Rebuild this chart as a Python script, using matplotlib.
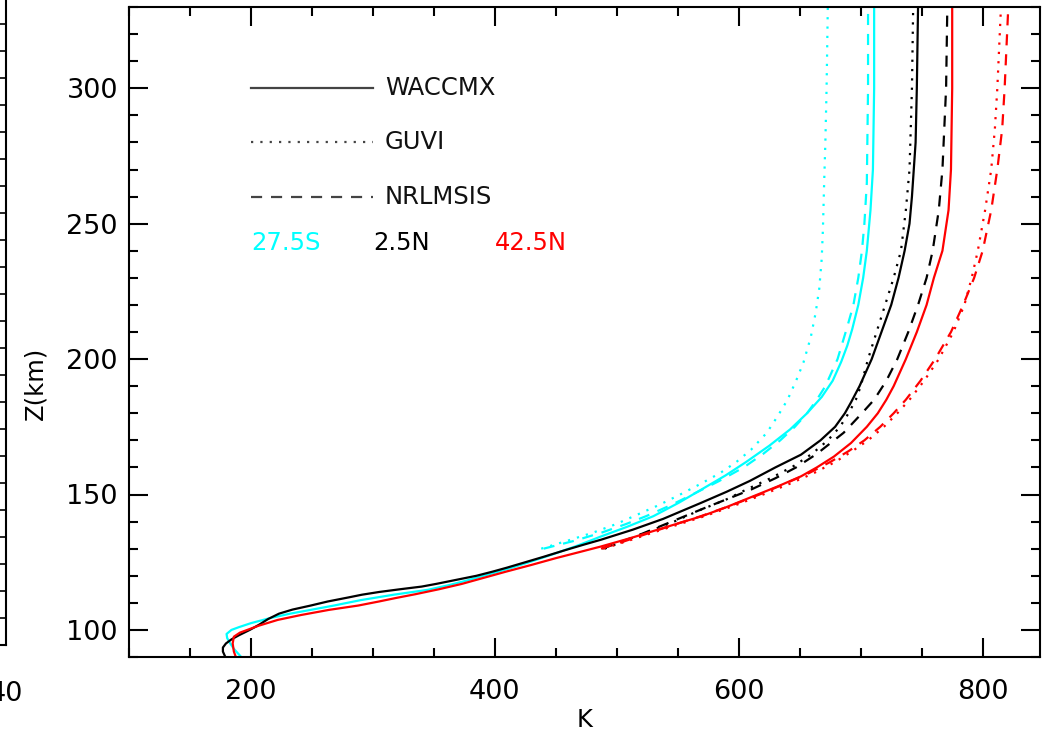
import matplotlib
matplotlib.use("Agg")
import matplotlib.pyplot as plt
from matplotlib.ticker import MultipleLocator

# Neutral temperature profiles (K) versus altitude (km)
# WACCMX model
z_w_s = [89.5, 91, 93, 95, 97, 98.5, 100, 101, 102.5, 104.4, 106, 107.4, 109, 111, 113, 114.8, 116.5, 118,
         119.5, 121, 123, 125, 128, 131, 134.5, 138, 142, 147, 152, 157, 162, 168, 174, 180, 186, 192, 199,
         205, 211, 220, 230, 240, 255, 270, 300, 330]
t_w_s = [193, 190, 186, 183, 180.5, 180, 184, 190, 200, 216, 232, 249, 268, 290, 317, 345, 362, 375,
         387, 399, 414, 428, 448, 467, 487, 508, 530, 551, 570, 589, 606, 625, 642, 656, 668, 677, 684,
         689, 693, 698, 702, 705, 708, 710, 711, 711]

z_w_eq = [90, 91, 92, 93.5, 95, 96.5, 98, 100, 102, 104, 106, 107.5, 109, 110.5, 112, 113, 114, 115, 116,
          117, 118, 119, 120, 121.5, 123, 125, 127, 129.5, 131.5, 133.3, 137, 141, 146.9, 151, 155, 160,
          164.7, 170, 175, 180, 184, 190, 195, 200, 210, 220, 230, 240, 250, 260, 280, 300, 330]
t_w_eq = [179, 178, 177, 177, 179.5, 184, 190, 199, 207, 214, 223, 234, 249, 263, 280, 291, 305, 322, 340,
          352, 363, 374, 385, 398, 410, 425, 440, 458, 473, 487, 513, 538, 569, 590, 609, 630,
          651, 667, 679, 687, 692, 699, 704, 709, 717, 725, 731, 736, 740, 742, 745, 746, 747]

z_w_n = [89.5, 92, 95, 97.5, 99, 100, 101.5, 103.7, 105.5, 107.4, 109, 110.5, 111.8, 113.2, 115, 117, 119,
         121.5, 124, 126.5, 128.7, 130.8, 134, 137.5, 141.9, 145, 149, 153, 156.7, 160, 164, 169, 175, 180,
         185, 190, 200, 210, 220, 230, 240, 255, 270, 300, 330]
t_w_n = [188, 186, 185, 186, 191, 197, 206, 222, 241, 264, 288, 305, 319, 335, 354, 373, 389,
         409, 430, 450, 469, 487, 512, 537, 569, 588, 610, 632, 651, 664, 678, 692, 705, 714,
         721, 727, 737, 746, 754, 760, 767, 772, 774, 775, 775]

# GUVI retrievals
z_g_s = [130, 133, 136, 139, 142, 146, 150, 154, 158, 162, 166.5, 172.8, 179, 185, 192, 198.7, 208, 217,
         226, 237, 248, 265, 280, 300, 330]
t_g_s = [438, 460, 481, 499, 514, 534, 552, 569, 585, 598, 610, 623, 632, 640, 647, 653, 659, 663,
         666, 668, 669, 670, 671, 672, 673]

z_g_eq = [130, 133, 136, 140, 144.4, 148, 152, 156, 160.5, 165, 170, 175, 180, 185, 190, 200, 210, 220,
          230, 240, 255, 270, 300, 330]
t_g_eq = [490, 507, 524, 547, 569, 589, 607, 626, 645, 660, 673, 683, 690, 696, 700, 706, 713, 720,
          727, 733, 737, 740, 742, 743]

z_g_n = [130, 133, 136, 139, 142, 146, 150, 154, 158, 162, 166, 170, 175, 180, 185, 192, 200, 210, 220,
         230, 240, 255, 270, 285, 300, 330]
t_g_n = [489, 510, 530, 551, 572, 597, 620, 642, 662, 679, 693, 706, 719, 730, 740, 752, 764, 776, 785,
         791, 796, 802, 807, 810, 812, 815]

# NRLMSIS empirical model
z_m_s = [130, 133, 136, 139, 142, 146, 150, 155, 160, 165, 170, 175, 180, 185, 190, 195, 200, 206, 212,
         220, 230, 240, 250, 265, 300, 330]
t_m_s = [440, 466, 488, 507, 524, 544, 562, 584, 604, 620, 634, 646, 656, 664, 671, 676, 681, 685, 689,
         694, 698, 701, 703, 705, 706, 706]

z_m_eq = [130, 135, 140, 145, 151.8, 156, 160, 165, 172.8, 180, 185, 192, 200, 210, 220, 230, 240, 255,
          270, 300, 330]
t_m_eq = [488, 518, 545, 572, 610, 630, 647, 664, 686, 701, 711, 721, 730, 739, 747, 754, 759, 764,
          767, 770, 771]

z_m_n = [130, 133, 136, 139, 142, 146, 150, 154, 158, 162, 166, 170, 175, 180, 185, 192, 200, 210, 220,
         230, 240, 255, 270, 285, 300, 330]
t_m_n = [487, 508, 528, 548, 569, 594, 617, 638, 658, 675, 690, 703, 716, 727, 737, 749, 761, 774, 784,
         793, 800, 807, 812, 816, 818, 821]

lat_labels = ["27.5S", "2.5N", "42.5N"]
lat_colors = ["#00ffff", "black", "red"]
source_names = ["WACCMX", "GUVI", "NRLMSIS"]

DOT = (0, (1, 3.2))
DASH = (0, (5, 4))
source_styles = ["-", DOT, DASH]

profiles = [
    [(t_w_s, z_w_s), (t_g_s, z_g_s), (t_m_s, z_m_s)],
    [(t_w_eq, z_w_eq), (t_g_eq, z_g_eq), (t_m_eq, z_m_eq)],
    [(t_w_n, z_w_n), (t_g_n, z_g_n), (t_m_n, z_m_n)],
]

W, H = 1043, 739
fig = plt.figure(figsize=(W / 100, H / 100), dpi=100)

# right edge of the neighbouring panel
ax0 = fig.add_axes([-0.5, 94 / H, 0.5 + 6 / W, 1.0])
ax0.set_xlim(0, 40)
ax0.set_ylim(0, 1.0 * H / 27)
ax0.set_xticks([40])
ax0.set_xticklabels(["40"], fontsize=19.5)
ax0.yaxis.set_major_locator(MultipleLocator(1))
ax0.tick_params(axis="y", which="both", direction="in", right=True, left=False,
                labelleft=False, length=5, width=1.2)
ax0.tick_params(axis="x", length=0, pad=26)
for sp in ax0.spines.values():
    sp.set_linewidth(1.5)

ax = fig.add_axes([129 / W, 82 / H, 911 / W, 650 / H])

for i, lat in enumerate(profiles):
    for j, (t, z) in enumerate(lat):
        ax.plot(t, z, color=lat_colors[i], linestyle=source_styles[j], lw=1.6)

# IDL-style in-plot key
key_z = [300, 280, 260]
for j, name in enumerate(source_names):
    ax.plot([200, 300], [key_z[j], key_z[j]], color="#444444", linestyle=source_styles[j], lw=1.6)
    ax.text(310, key_z[j], name, fontsize=17.5, va="center", ha="left", color="#111111")
for i, lab in enumerate(lat_labels):
    ax.text(200 + 100 * i, 243, lab, fontsize=17.5, va="center", ha="left", color=lat_colors[i])

ax.set_xlim(100, 847)
ax.set_ylim(90, 330)
ax.set_xticks([200, 400, 600, 800])
ax.set_yticks([100, 150, 200, 250, 300])
ax.xaxis.set_minor_locator(MultipleLocator(50))
ax.yaxis.set_minor_locator(MultipleLocator(10))
ax.tick_params(which="both", direction="in", top=True, right=True, width=1.5)
ax.tick_params(which="major", length=13.5)
ax.tick_params(which="minor", length=6.5)
ax.tick_params(axis="x", labelsize=19.5, pad=16)
ax.tick_params(axis="y", labelsize=19.5, pad=8)
for sp in ax.spines.values():
    sp.set_linewidth(1.5)

ax.set_xlabel("K", fontsize=17.5, va="center")
ax.xaxis.set_label_coords(0.5, -0.097)
ax.set_ylabel("Z(km)", fontsize=17.5, va="center")
ax.yaxis.set_label_coords(-0.103, 0.4215)

fig.savefig("out.png", dpi=100)
